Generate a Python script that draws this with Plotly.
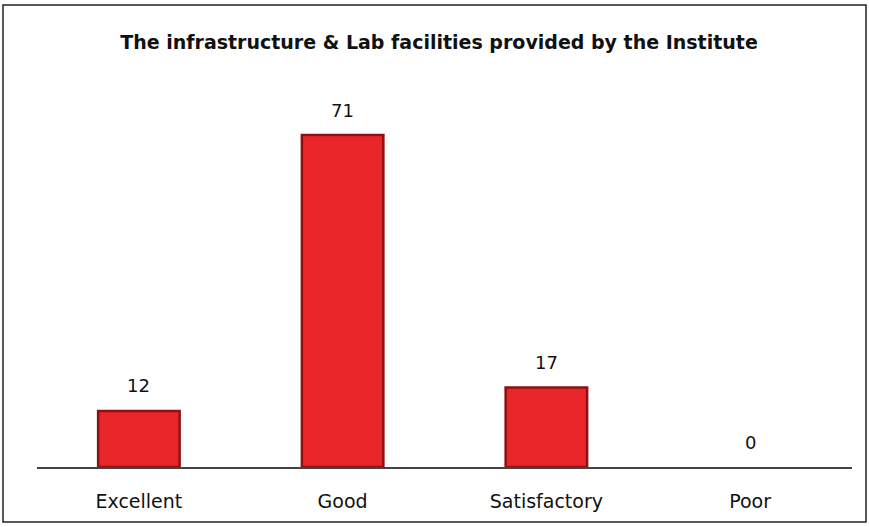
import plotly.graph_objects as go

categories = ["Excellent", "Good", "Satisfactory", "Poor"]
values = [12, 71, 17, 0]
title_text = "The infrastructure & Lab facilities provided by the Institute"

W, H = 869, 527
ml, mr, mt, mb = 37, 17, 93, 60
pw, ph = W - ml - mr, H - mt - mb

fig = go.Figure()
fig.add_trace(go.Bar(
    x=categories, y=values, width=0.4,
    marker=dict(color="#E8262A",
                line=dict(color="#8E1010", width=[2.5 if v > 0 else 0 for v in values])),
    hoverinfo="skip",
))

for c, v in zip(categories, values):
    fig.add_annotation(x=c, y=v, text=str(v), showarrow=False, yshift=25,
                       font=dict(family="DejaVu Sans", size=18, color="#111"))

# outer chart border in paper coordinates
bx0, by0, bx1, by1 = 3, 5, 866, 522
fig.add_shape(type="rect", xref="paper", yref="paper",
              x0=(bx0 - ml) / pw, x1=(bx1 - ml) / pw,
              y0=(H - mb - by1) / ph, y1=(H - mb - by0) / ph,
              line=dict(color="#222", width=1.5))

fig.update_layout(
    width=W, height=H,
    margin=dict(l=ml, r=mr, t=mt, b=mb),
    paper_bgcolor="white", plot_bgcolor="white",
    title=dict(text="<b>" + title_text + "</b>", x=439 / W, xanchor="center",
               y=1 - 42 / H, yanchor="middle",
               font=dict(family="DejaVu Sans", size=19, color="#111")),
    showlegend=False,
)
fig.update_xaxes(showline=True, linecolor="#444", linewidth=2, showgrid=False,
                 ticks="outside", ticklen=16, tickcolor="rgba(0,0,0,0)",
                 tickfont=dict(family="DejaVu Sans", size=19, color="#111"),
                 fixedrange=True)
fig.update_yaxes(visible=False, range=[0, 80], showgrid=False, zeroline=False, fixedrange=True)

fig.write_html("out.html", config={"displayModeBar": False},
               post_script="document.body.style.margin='0';document.body.style.overflow='hidden';")
